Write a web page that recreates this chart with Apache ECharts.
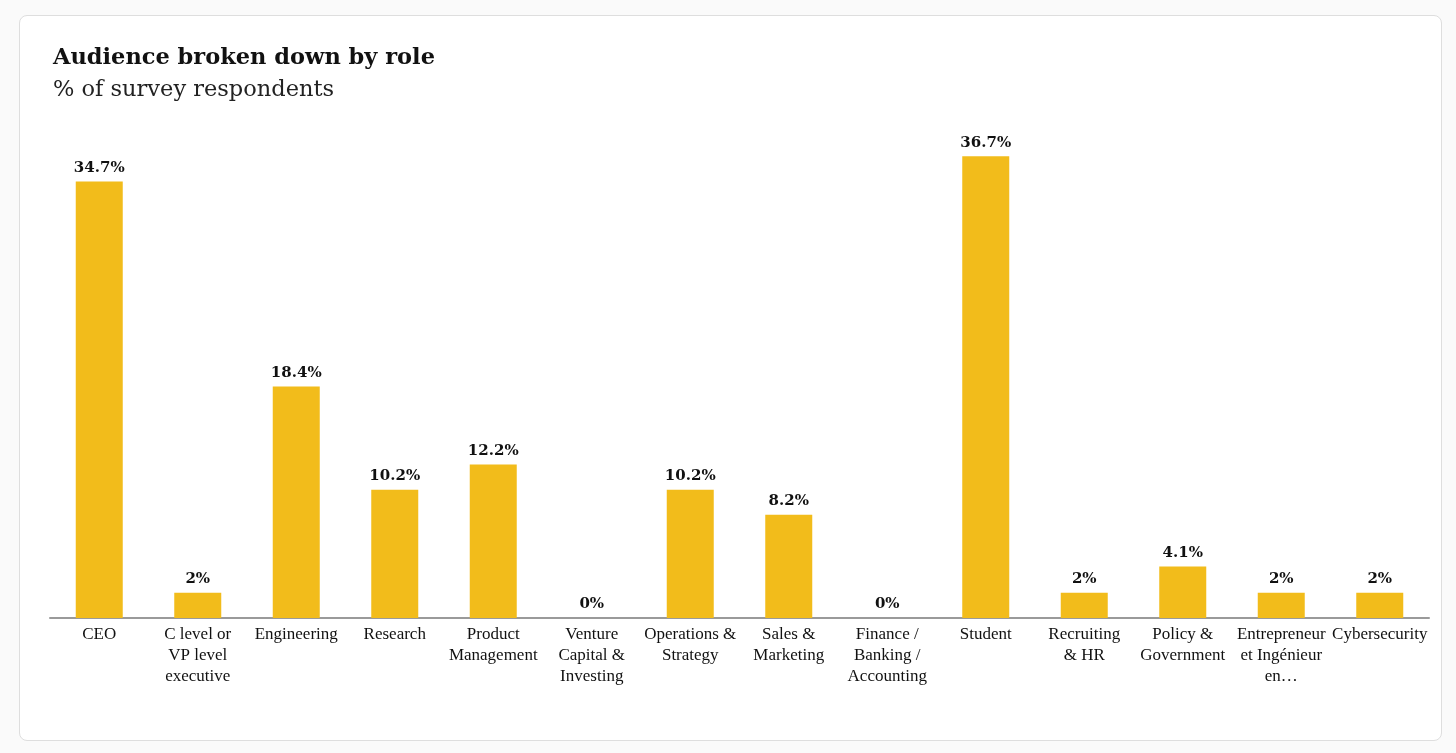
<!DOCTYPE html>
<html>
<head>
<meta charset="utf-8">
<script src="https://cdn.jsdelivr.net/npm/echarts@6/dist/echarts.min.js"></script>
<style>
  html, body { margin: 0; padding: 0; background: #fafafa; }
  #card {
    position: absolute; left: 19px; top: 15px; width: 1421px; height: 724px;
    border: 1px solid #dedede; border-radius: 8px; background: #fff;
  }
  #chart { position: absolute; left: 0; top: 0; width: 1456px; height: 753px; }
</style>
</head>
<body>
<div id="card"></div>
<div id="chart"></div>
<script>
// roles and share of respondents (%)
const roles = [
  'CEO',
  'C level or\nVP level\nexecutive',
  'Engineering',
  'Research',
  'Product\nManagement',
  'Venture\nCapital &\nInvesting',
  'Operations &\nStrategy',
  'Sales &\nMarketing',
  'Finance /\nBanking /\nAccounting',
  'Student',
  'Recruiting\n& HR',
  'Policy &\nGovernment',
  'Entrepreneur\net Ingénieur\nen…',
  'Cybersecurity'
];
const shares = [34.7, 2, 18.4, 10.2, 12.2, 0, 10.2, 8.2, 0, 36.7, 2, 4.1, 2, 2];

const titleText = 'Audience broken down by role';
const subtitleText = '% of survey respondents';

const chart = echarts.init(document.getElementById('chart'));

chart.setOption({
  animation: false,
  title: {
    text: titleText,
    subtext: subtitleText,
    left: 48,
    top: 42,
    itemGap: 9,
    textStyle: { fontFamily: 'DejaVu Serif', fontWeight: 'bold', fontSize: 22.5, color: '#111' },
    subtextStyle: { fontFamily: 'DejaVu Serif', fontSize: 22.5, color: '#222' }
  },
  grid: { left: 50, right: 27, top: 150, bottom: 135 },
  xAxis: {
    type: 'category',
    data: roles,
    axisTick: { show: false },
    axisLine: { lineStyle: { color: '#9a9a9a', width: 2 } },
    axisLabel: {
      interval: 0,
      margin: 6,
      fontFamily: 'Liberation Serif',
      fontSize: 17,
      lineHeight: 21,
      color: '#111'
    }
  },
  yAxis: {
    type: 'value',
    min: 0,
    max: 37.2,
    show: false,
    splitLine: { show: false }
  },
  series: [{
    type: 'bar',
    data: shares,
    barWidth: 47,
    itemStyle: { color: '#F2BC1B' },
    label: {
      show: true,
      position: 'top',
      distance: 6,
      formatter: p => p.value + '%',
      fontFamily: 'DejaVu Serif',
      fontWeight: 'bold',
      fontSize: 15,
      color: '#111'
    }
  }]
});
</script>
</body>
</html>
